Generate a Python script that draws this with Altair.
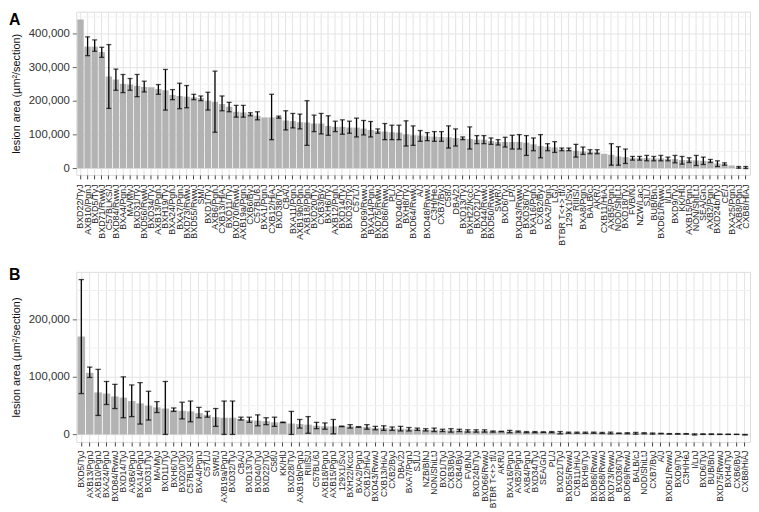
import altair as alt
import pandas as pd

# ---------------- Panel A ----------------
strainsA = ["BXD22/TyJ","AXB10/PgnJ","BXD5/TyJ","BXD71/RwwJ","C57BLKS/J","BXD84/RwwJ","BXA4/PgnJ","MA/MyJ",
 "BXD31/TyJ","BXD56/RwwJ","BXD34/TyJ","AXB13/PgnJ","BXH19/TyJ","BXA24/PgnJ","BXA7/PgnJ","BXD73/RwwJ",
 "BXD55/RwwJ","SM/J","BXD1/TyJ","AXB6/PgnJ","CXB13/HiAJ","BXD11/TyJ","BXD70/RwwJ","AXB19a/PgnJ",
 "CXB6/ByJ","C57BL/6J","BXA1/PgnJ","CXB12/HiAJ","BXD38/TyJ","CBA/J","BXA11/PgnJ","AXB19b/PgnJ",
 "AXB18/PgnJ","BXD20/TyJ","CXB3/ByJ","BXH6/TyJ","AXB12/PgnJ","BXD14/TyJ","BXD32/TyJ","C57L/J",
 "BXD69/RwwJ","BXA14/PgnJ","BXD75/RwwJ","BXD86/RwwJ","PL/J","BXD40/TyJ","BXH8/TyJ","BXD64/RwwJ",
 "A/J","BXD48/RwwJ","C3H/HeJ","CXB7/ByJ","C58/J","DBA/2J","BXD13/TyJ","BXH22/KccJ","BXD21/TyJ",
 "BXD44/RwwJ","BXD50/RwwJ","SWR/J","BXD6/TyJ","LP/J","BXD43/RwwJ","BXD36/TyJ","BXA16/PgnJ",
 "CXB2/ByJ","BXA2/PgnJ","LG/J","BTBR T<+> tf/J","129X1/SvJ","RIIIS/J","BXA8/PgnJ","BALB/cJ","AKR/J",
 "CXB11/HiAJ","AXB5/PgnJ","NOD/ShiLtJ","BXD18/TyJ","FVB/NJ","NZW/LacJ","SJL/J","BUB/BnJ",
 "BXD61/RwwJ","I/LnJ","BXD9/TyJ","KK/HlJ","AXB15/PgnJ","NON/ShiLtJ","SEA/GnJ","AXB2/PgnJ",
 "BXD24b/TyJ","CE/J","BXA25/PgnJ","AXB8/PgnJ","CXB8/HiAJ"]
meanA = [443,362,362,346,273,264,251,249,245,242,241,236,232,218,215,213,211,209,201,197,191,183,168,166,
 161,156,151,151,152,142,140,137,136,133,133,126,123,123,121,121,118,114,111,109,107,106,101,98,
 97,95,94,93,92,90,89,87,85,85,81,78,78,78,78,76,71,66,64,62,56,55,52,50,49,48,
 43,40,35,33,30,30,30,29,29,28,27,24,24,23,22,21,14,12,8,2,2]
loA = [None,335,348,330,178,232,225,232,213,227,None,220,173,204,177,180,204,201,173,107,171,168,152,152,
 156,144,None,85,149,114,120,117,68,109,102,98,109,101,104,93,99,93,104,85,85,85,66,68,
 80,82,80,80,60,66,85,57,73,73,71,69,63,57,57,38,52,31,52,47,52,52,33,41,43,43,
 None,9,9,14,24,24,22,22,22,22,16,12,17,8,11,17,5,9,None,0,-1]
hiA = [None,391,382,360,368,295,279,267,279,259,None,249,294,234,253,246,220,215,226,289,215,196,187,187,
 165,168,None,220,155,171,163,161,201,158,163,156,140,144,140,149,142,139,117,133,128,128,141,126,
 112,106,109,109,126,117,93,123,97,97,90,85,92,98,100,97,90,100,73,79,60,60,71,63,55,55,
 None,73,64,57,35,35,38,35,38,33,38,35,31,38,33,26,22,16,None,5,5]

# ---------------- Panel B ----------------
strainsB = ["BXD5/TyJ","AXB13/PgnJ","AXB10/PgnJ","BXA24/PgnJ","BXD84/RwwJ","BXD14/TyJ","AXB6/PgnJ",
 "BXA14/PgnJ","BXD31/TyJ","MA/MyJ","BXD11/TyJ","BXH6/TyJ","BXD20/TyJ","C57BLKS/J","BXA4/PgnJ",
 "C57L/J","SWR/J","AXB19a/PgnJ","BXD32/TyJ","CBA/J","BXD13/TyJ","BXD40/TyJ","BXD22/TyJ","C58/J",
 "KK/HlJ","BXD28/TyJ","AXB19b/PgnJ","RIIIS/J","C57BL/6J","AXB18/PgnJ","AXB15/PgnJ","129X1/SvJ",
 "BXH22/KccJ","BXA2/PgnJ","CXB12/HiAJ","BXD43/RwwJ","CXB13/HiAJ","CXB2/ByJ","DBA/2J","BXA7/PgnJ",
 "SJL/J","NZB/BlNJ","NON/ShiLtJ","BXD1/TyJ","CXB3/ByJ","CXB4/ByJ","FVB/NJ","BXD24b/TyJ",
 "BXD66/RwwJ","BTBR T<+> tf/J","AKR/J","BXA16/PgnJ","AXB2/PgnJ","AXB4/PgnJ","BXD34/TyJ","SEA/GnJ",
 "PL/J","BXD21/TyJ","BXD55/RwwJ","CXB11/HiAJ","BXH9/TyJ","BXD86/RwwJ","BXD68/RwwJ","BXD73/RwwJ",
 "BXD36/TyJ","BXD69/RwwJ","BALB/cJ","NOD/ShiLtJ","CXB7/ByJ","A/J","BXD61/RwwJ","BXD9/TyJ",
 "C3H/HeJ","I/LnJ","BXD6/TyJ","BUB/BnJ","BXD75/RwwJ","BXH4/TyJ","CXB6/ByJ","CXB8/HiAJ"]
meanB = [170,107,73,71,66,64,58,54,50,47,45,42,41,40,37,34,30,29,29,27,25,24,23,21,
 21,19,18,17,15,14,14,14,14,13,13,11,11,10,10,9,9,8,8,7,7,7,6,6,
 6,5,5,5,5,4,4,4,4,3,3,3,3,3,2.5,2.5,2,2,2,2,1.5,1.5,1,1,
 1,1,0.5,0.5,0.3,0.2,0.1,0]
loB = [71,99,33,52,45,29,31,18,25,38,0,40,27,22,29,30,14,0,0,25,21,15,17,14,
 20.5,0,11,2,10,9,1,13.5,11,12.5,9,8,7,7,6,6,7,6,5,5,4,5,4,4,
 4,4,4.5,3,4,3,3,3.5,3,1,2,2,2,2,1.5,1,1.5,1,0.5,1,0.5,1,0.5,0.5,
 0.5,-1,0,0,0,0,0,-1]
hiB = [269,117,113,92,87,100,86,90,75,57,92,46,56,58,47,40,45,58,58,30,30,34,29,30,
 21.5,40,26,31,21,20,26,14.5,17,13.5,17,14,15,13,14,12,11,10,11,9,10,9,8,8,
 8,6,5.5,7,6,5,5,4.5,5,5,4,4,4,4,3.5,4,2.5,3,3.5,3,2.5,2,1.5,1.5,
 1.5,1,1,1,0.6,0.4,0.2,0]

minorA = [50000, 150000, 250000, 350000, 450000]
minorB = [50000, 150000, 250000]
ticksA = [0, 100000, 200000, 300000, 400000]
ticksB = [0, 100000, 200000]

FONT = "Liberation Sans"
YTITLE = "lesion area (µm²/section)"


def frame(strains, mean, lo, hi):
    return pd.DataFrame({
        "strain": strains,
        "mean": [m * 1000 for m in mean],
        "lo": [None if v is None else v * 1000 for v in lo],
        "hi": [None if v is None else v * 1000 for v in hi],
    })


def panel(df, strains, domain, ticks, minor, letter, height, capsize, letter_y,
          xfont, xpad):
    xscale = alt.Scale(paddingInner=0.1, paddingOuter=0.15)
    xaxis = alt.Axis(title=None, labelAngle=-90, labelFontSize=xfont, labelColor="#222222",
                     tickColor="#444444", tickSize=4, labelPadding=xpad, grid=True,
                     gridColor="#e4e4e4", bandPosition=0.5, domain=False,
                     labelOverlap=False, labelFont=FONT)
    yaxis = alt.Axis(values=ticks, format=",.0f", title=YTITLE, titleFontSize=11,
                     titleFontWeight="normal", titleFont=FONT, titleColor="#111111",
                     labelFontSize=11.5, labelColor="#333333", labelFont=FONT,
                     tickSize=4, tickColor="#666666", labelPadding=3, titlePadding=7,
                     gridColor="#e4e4e4", domain=False)
    yscale = alt.Scale(domain=domain, nice=False, zero=False)

    def Y(field):
        return alt.Y(field, scale=yscale, axis=yaxis, title=YTITLE)

    X = alt.X("strain:N", sort=strains, scale=xscale, axis=xaxis)

    minor_grid = alt.Chart(pd.DataFrame({"v": minor})).mark_rule(
        color="#f1f1f1", strokeWidth=1).encode(y=Y("v:Q"))
    base = alt.Chart(df)
    bars = base.mark_bar(color="#b3b3b3").encode(x=X, y=Y("mean:Q"))
    err = base.transform_filter("isValid(datum.lo)")
    rule = err.mark_rule(color="black", strokeWidth=1.3).encode(
        x=X, y=Y("lo:Q"), y2=alt.Y2("hi:Q"))
    cap_lo = err.mark_tick(color="black", thickness=1.3, size=capsize).encode(x=X, y=Y("lo:Q"))
    cap_hi = err.mark_tick(color="black", thickness=1.3, size=capsize).encode(x=X, y=Y("hi:Q"))
    lab = alt.Chart(pd.DataFrame({"t": [letter]})).mark_text(
        font=FONT, fontSize=16, fontWeight="bold", align="left", baseline="top",
        color="black").encode(text="t:N", x=alt.value(-68), y=alt.value(letter_y))
    return alt.layer(minor_grid, bars, rule, cap_lo, cap_hi, lab).properties(
        width=681, height=height)


dfA = frame(strainsA, meanA, loA, hiA)
dfB = frame(strainsB, meanB, loB, hiB)

pA = panel(dfA, strainsA, [-20000, 466000], ticksA, minorA, "A", 165, 5, 0, 9, 5)
pB = panel(dfB, strainsB, [-13200, 282400], ticksB, minorB, "B", 172, 5.5, -5, 8.5, 4)

chart = alt.vconcat(pA, pB, spacing=98, bounds="flush").resolve_scale(
    x="independent", y="independent"
).properties(
    padding={"left": 0, "top": 0, "right": 0, "bottom": 0}
).configure_view(
    stroke="#888888", strokeWidth=1
).configure(
    font=FONT, background="white"
)

chart.save("out.html", embed_options={"renderer": "svg", "actions": False})
